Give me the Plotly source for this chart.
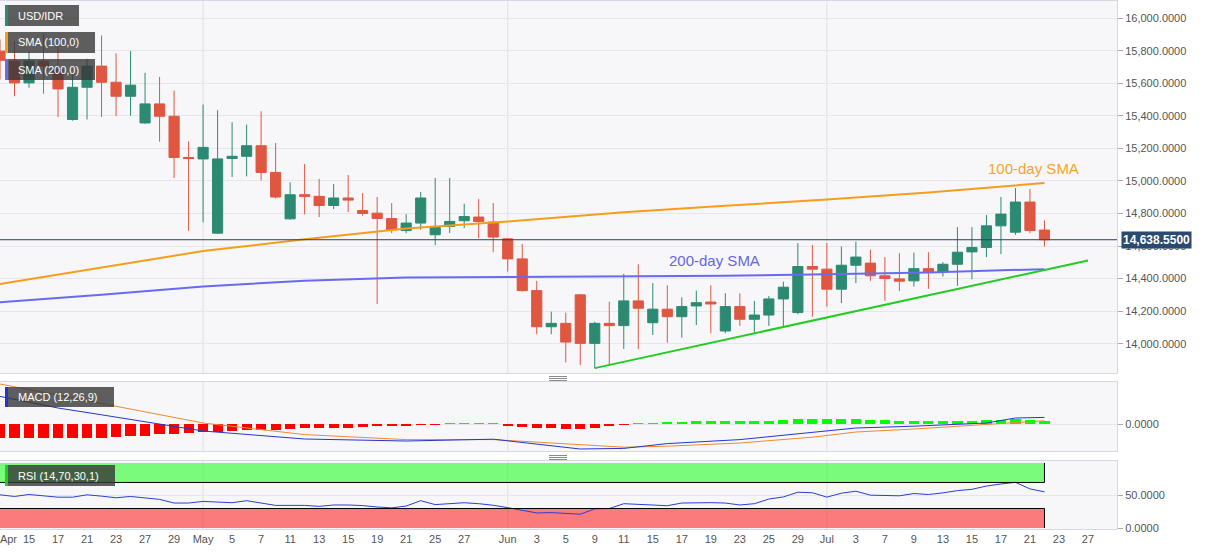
import plotly.graph_objects as go

# USD/IDR daily candles, 13 Apr - 22 Jul 2020
dates = [
    "2020-04-13", "2020-04-14", "2020-04-15", "2020-04-16", "2020-04-17",
    "2020-04-20", "2020-04-21", "2020-04-22", "2020-04-23", "2020-04-24",
    "2020-04-27", "2020-04-28", "2020-04-29", "2020-04-30", "2020-05-01",
    "2020-05-04", "2020-05-05", "2020-05-06", "2020-05-07", "2020-05-08",
    "2020-05-11", "2020-05-12", "2020-05-13", "2020-05-14", "2020-05-15",
    "2020-05-18", "2020-05-19", "2020-05-20", "2020-05-21", "2020-05-22",
    "2020-05-25", "2020-05-26", "2020-05-27", "2020-05-28", "2020-05-29",
    "2020-06-01", "2020-06-02", "2020-06-03", "2020-06-04", "2020-06-05",
    "2020-06-08", "2020-06-09", "2020-06-10", "2020-06-11", "2020-06-12",
    "2020-06-15", "2020-06-16", "2020-06-17", "2020-06-18", "2020-06-19",
    "2020-06-22", "2020-06-23", "2020-06-24", "2020-06-25", "2020-06-26",
    "2020-06-29", "2020-06-30", "2020-07-01", "2020-07-02", "2020-07-03",
    "2020-07-06", "2020-07-07", "2020-07-08", "2020-07-09", "2020-07-10",
    "2020-07-13", "2020-07-14", "2020-07-15", "2020-07-16", "2020-07-17",
    "2020-07-20", "2020-07-21", "2020-07-22",
]
opens = [
    15797, 15735, 15602, 15735, 15684, 15377, 15575, 15705, 15606, 15520,
    15356, 15473, 15397, 15144, 15135, 14679, 15138, 15151, 15216, 15052,
    14767, 14915, 14905, 14849, 14895, 14818, 14802, 14769, 14695, 14741,
    14669, 14720, 14755, 14778, 14747, 14644, 14521, 14326, 14104, 14125,
    14300, 14002, 14125, 14111, 14263, 14129, 14212, 14166, 14232, 14256,
    14078, 14228, 14150, 14176, 14275, 14191, 14474, 14458, 14335, 14482,
    14495, 14417, 14398, 14386, 14461, 14443, 14488, 14564, 14591, 14724,
    14685, 14870, 14698,
]
highs = [
    15869, 15858, 15797, 15906, 15838, 15664, 15750, 15893, 15783, 15797,
    15664, 15639, 15555, 15243, 15469, 15434, 15360, 15346, 15428, 15233,
    14991, 15104, 15012, 14981, 15036, 14925, 14901, 14864, 14796, 14932,
    15018, 15018, 14860, 14888, 14864, 14648, 14613, 14386, 14197, 14191,
    14305, 14135, 14258, 14429, 14488, 14372, 14359, 14285, 14326, 14359,
    14310, 14310, 14263, 14293, 14381, 14618, 14607, 14618, 14597, 14628,
    14577, 14532, 14556, 14560, 14562, 14501, 14716, 14716, 14790, 14901,
    14956, 14950, 14757,
]
lows = [
    15623, 15520, 15572, 15535, 15393, 15370, 15377, 15393, 15397, 15401,
    15350, 15241, 15018, 14693, 14745, 14675, 15024, 15028, 15003, 14892,
    14762, 14794, 14778, 14827, 14808, 14786, 14244, 14679, 14679, 14700,
    14605, 14679, 14710, 14648, 14562, 14443, 14320, 14058, 14058, 13885,
    13869, 13848, 13869, 13967, 13967, 14053, 14006, 14037, 14115, 14064,
    14064, 14109, 14064, 14109, 14104, 14181, 14166, 14228, 14249, 14372,
    14386, 14263, 14324, 14351, 14337, 14412, 14355, 14396, 14532, 14550,
    14669, 14679, 14597,
]
closes = [
    15741, 15602, 15735, 15705, 15565, 15575, 15705, 15606, 15520, 15588,
    15473, 15397, 15144, 15137, 15206, 15135, 15151, 15216, 15052, 14901,
    14915, 14905, 14849, 14895, 14882, 14800, 14769, 14700, 14741, 14895,
    14714, 14751, 14781, 14751, 14655, 14521, 14326, 14104, 14125, 14010,
    14002, 14125, 14111, 14263, 14218, 14212, 14166, 14228, 14252, 14244,
    14228, 14150, 14176, 14275, 14347, 14474, 14458, 14335, 14482, 14532,
    14417, 14400, 14384, 14461, 14443, 14488, 14562, 14591, 14724, 14796,
    14870, 14695, 14638.55,
]
last_price = 14638.55

# moving averages, read at a few dates
sma_dates = ["2020-04-13", "2020-04-22", "2020-05-01", "2020-05-12", "2020-05-21",
             "2020-06-01", "2020-06-11", "2020-06-22", "2020-07-01", "2020-07-10",
             "2020-07-22"]
sma100 = [14367, 14466, 14569, 14641, 14708, 14751, 14807, 14847, 14885, 14929, 14987]
sma200 = [14255, 14301, 14352, 14387, 14407, 14410, 14413, 14417, 14426, 14438, 14458]

# rising support line
support_dates = ["2020-06-09", "2020-07-27"]
support_vals = [13850, 14511]

# MACD (12,26,9)
macd_dates = ["2020-04-13", "2020-04-17", "2020-04-22", "2020-05-01", "2020-05-12",
              "2020-05-21", "2020-05-29", "2020-06-03", "2020-06-08", "2020-06-11",
              "2020-06-16", "2020-06-23", "2020-06-30", "2020-07-03", "2020-07-09",
              "2020-07-16", "2020-07-20", "2020-07-22"]
macd_line = [138, 80, 46, -35, -75, -85, -76, -102, -125, -122, -98, -78, -42, -20, -11, 5, 30, 33]
signal_line = [200, 145, 105, 5, -53, -78, -78, -90, -103, -116, -111, -95, -66, -40, -25, -1, 8, 16]
macd_hist = [
    -70, -70, -70, -70, -70, -70, -70, -68, -65, -62,
    -60, -50, -48, -45, -42, -38, -35, -32, -30, -28,
    -25, -22, -20, -18, -18, -15, -12, -12, -10, -5,
    -2, 2, 4, 4, 2, -10, -15, -18, -20, -25,
    -25, -18, -12, -5, 2, 5, 6, 10, 13, 15,
    15, 13, 13, 15, 18, 23, 26, 23, 23, 26,
    20, 18, 16, 15, 13, 13, 15, 15, 20, 22,
    25, 20, 16,
]

# RSI (14)
rsi = [
    51, 48.5, 51.5, 50, 47.4, 47.4, 51, 49, 46.5, 48.5,
    46.5, 44, 38.4, 38.4, 40.9, 40, 38.9, 42, 38.5, 34.8,
    34.8, 34.8, 33.3, 35.4, 35.4, 34.5, 32.3, 31, 33.8, 42,
    36, 37, 38.9, 37.4, 35, 31.3, 27, 23.2, 23.7, 22.5,
    21.2, 29.5, 30, 37.4, 36, 35.4, 34.3, 38.4, 39.2, 39,
    38.4, 35.4, 37.4, 44.5, 47.8, 55, 54.2, 47.5, 53.5, 56.6,
    50.5, 50, 49.5, 53, 51.5, 54, 57.5, 59.5, 64.5, 67.7,
    70.2, 60.1, 55.6,
]

tick_dates = ["2020-04-13 14:00", "2020-04-15", "2020-04-17", "2020-04-21", "2020-04-23",
              "2020-04-27", "2020-04-29", "2020-05-01", "2020-05-05", "2020-05-07",
              "2020-05-11", "2020-05-13", "2020-05-15", "2020-05-19", "2020-05-21",
              "2020-05-25", "2020-05-27", "2020-06-01", "2020-06-03", "2020-06-05",
              "2020-06-09", "2020-06-11", "2020-06-15", "2020-06-17", "2020-06-19",
              "2020-06-23", "2020-06-25", "2020-06-29", "2020-07-01", "2020-07-03",
              "2020-07-07", "2020-07-09", "2020-07-13", "2020-07-15", "2020-07-17",
              "2020-07-21", "2020-07-23", "2020-07-27"]
tick_text = ["Apr", "15", "17", "21", "23", "27", "29", "May", "5", "7", "11", "13", "15",
             "19", "21", "25", "27", "Jun", "3", "5", "9", "11", "15", "17", "19", "23",
             "25", "29", "Jul", "3", "7", "9", "13", "15", "17", "21", "23", "27"]
month_starts = ["2020-05-01", "2020-06-01", "2020-07-01"]
price_ticks = [14000, 14200, 14400, 14600, 14800, 15000, 15200, 15400, 15600, 15800, 16000]

GREEN = "#2d8a72"
RED = "#df5741"
ORANGE = "#f59e1b"
PURPLE = "#6a6af0"
FONT = "Liberation Sans, Arial, sans-serif"
BORDER = "#d6d9e4"
GRID = "#e6e6ec"

# page pixels -> paper coords (plot area spans x 0..1117, y 1..530)
def px(x):
    return x / 1117


def py(y):
    return (530 - y) / 529


fig = go.Figure()

fig.add_trace(go.Candlestick(
    x=dates, open=opens, high=highs, low=lows, close=closes,
    increasing=dict(line=dict(color=GREEN, width=1), fillcolor=GREEN),
    decreasing=dict(line=dict(color=RED, width=1), fillcolor=RED),
    whiskerwidth=0, xaxis="x", yaxis="y", hoverinfo="skip",
))
fig.add_trace(go.Scatter(x=sma_dates, y=sma100, mode="lines", line=dict(color=ORANGE, width=2),
                         xaxis="x", yaxis="y"))
fig.add_trace(go.Scatter(x=sma_dates, y=sma200, mode="lines", line=dict(color=PURPLE, width=2),
                         xaxis="x", yaxis="y"))
fig.add_trace(go.Scatter(x=support_dates, y=support_vals, mode="lines",
                         line=dict(color="#22cc22", width=2), xaxis="x", yaxis="y"))

# MACD panel
fig.add_trace(go.Bar(x=dates, y=macd_hist, width=0.7 * 86400000,
                     marker=dict(color=["#ff0000" if v < 0 else "#00ff00" for v in macd_hist],
                                 line=dict(width=0)),
                     xaxis="x2", yaxis="y2"))
fig.add_trace(go.Scatter(x=macd_dates, y=signal_line, mode="lines",
                         line=dict(color="#ee8a30", width=1), xaxis="x2", yaxis="y2"))
fig.add_trace(go.Scatter(x=macd_dates, y=macd_line, mode="lines",
                         line=dict(color="#2436d0", width=1), xaxis="x2", yaxis="y2"))

# RSI panel
fig.add_trace(go.Scatter(x=dates, y=rsi, mode="lines", line=dict(color="#2a3ed6", width=1),
                         xaxis="x3", yaxis="y3"))

xcommon = dict(
    type="date", range=["2020-04-13", "2020-07-29"],
    rangebreaks=[dict(bounds=["sat", "mon"])],
    showgrid=False, zeroline=False, showline=True, mirror=True,
    linecolor=BORDER, linewidth=1, fixedrange=True,
)
ycommon = dict(
    side="right", showline=True, mirror=True, linecolor=BORDER, linewidth=1,
    gridcolor=GRID, zeroline=False, tickformat=",.4f", fixedrange=True,
    ticks="outside", ticklen=5, tickcolor="#aaaaaa",
    tickfont=dict(family=FONT, size=11, color="#555555"),
)

fig.update_layout(
    width=1207, height=555,
    margin=dict(l=0, r=90, t=1, b=25),
    paper_bgcolor="white", plot_bgcolor="#f7f7f9",
    showlegend=False, bargap=0, boxgap=0.3, boxgroupgap=0,
    hovermode=False,
    font=dict(family=FONT),
    xaxis=dict(xcommon, domain=[0, 1], anchor="y", showticklabels=False,
               rangeslider=dict(visible=False)),
    xaxis2=dict(xcommon, domain=[0, 1], anchor="y2", matches="x", showticklabels=False),
    xaxis3=dict(xcommon, domain=[0, 1], anchor="y3", matches="x",
                tickvals=tick_dates, ticktext=tick_text, ticks="",
                ticklabeloverflow="allow",
                tickfont=dict(family=FONT, size=11, color="#555555")),
    yaxis=dict(ycommon, domain=[py(373), 1], range=[13820, 16105], tickvals=price_ticks),
    yaxis2=dict(ycommon, domain=[py(451), py(382)], range=[-135, 210], tickvals=[0]),
    yaxis3=dict(ycommon, domain=[py(529), py(461)], range=[-1.5, 103], tickvals=[0, 50]),
)

shapes = []
# vertical month lines in each panel
for d in month_starts:
    for xr, yr in (("x", "y domain"), ("x2", "y2 domain"), ("x3", "y3 domain")):
        shapes.append(dict(type="line", xref=xr, yref=yr, x0=d, x1=d, y0=0, y1=1,
                           line=dict(color="#e0e0e6", width=1), layer="below"))
# current price line
shapes.append(dict(type="line", xref="paper", yref="y", x0=0, x1=1, y0=last_price, y1=last_price,
                   line=dict(color="#2a3f5f", width=1)))
# RSI zones
shapes.append(dict(type="rect", xref="x3", yref="y3", x0=dates[0], x1=dates[-1], y0=70, y1=100,
                   fillcolor="rgba(0,255,0,0.5)", line=dict(width=0), layer="below"))
shapes.append(dict(type="rect", xref="x3", yref="y3", x0=dates[0], x1=dates[-1], y0=0, y1=30,
                   fillcolor="rgba(255,0,0,0.5)", line=dict(width=0), layer="below"))
for lvl in (70, 30):
    shapes.append(dict(type="line", xref="x3", yref="y3", x0=dates[0], x1=dates[-1], y0=lvl, y1=lvl,
                       line=dict(color="black", width=1)))
for lo, hi in ((70, 100), (0, 30)):
    shapes.append(dict(type="line", xref="x3", yref="y3", x0=dates[-1], x1=dates[-1], y0=lo, y1=hi,
                       line=dict(color="black", width=1)))
# panel separators
for ymid in (378.5, 457.5):
    for dy in (-2, 0, 2):
        shapes.append(dict(type="line", xref="paper", yref="paper", x0=px(549), x1=px(567),
                           y0=py(ymid + dy), y1=py(ymid + dy), line=dict(color="#8a8a8a", width=1)))

# indicator name boxes
label_boxes = [
    ("USD/IDR", 5, 79, 5, 26, GREEN),
    ("SMA (100,0)", 5, 95, 32, 53, ORANGE),
    ("SMA (200,0)", 5, 95, 59, 80, PURPLE),
    ("MACD (12,26,9)", 5, 114, 387, 407, "#2436d0"),
    ("RSI (14,70,30,1)", 5, 115, 465, 486, "#22cc22"),
]
annotations = []
for text, x0, x1, y0, y1, col in label_boxes:
    shapes.append(dict(type="rect", xref="paper", yref="paper", x0=px(x0), x1=px(x1),
                       y0=py(y1), y1=py(y0), fillcolor="rgba(55,55,55,0.8)",
                       line=dict(width=0), layer="above"))
    shapes.append(dict(type="rect", xref="paper", yref="paper", x0=px(x0), x1=px(x0 + 3),
                       y0=py(y1), y1=py(y0), fillcolor=col, line=dict(width=0), layer="above"))
    annotations.append(dict(text=text, xref="paper", yref="paper", x=px(16), y=py((y0 + y1) / 2),
                            xanchor="left", yanchor="middle", showarrow=False,
                            font=dict(family=FONT, size=11, color="white")))

annotations.append(dict(text="100-day SMA", xref="x", yref="y", x="2020-07-16", y=15075,
                        xanchor="left", yanchor="middle", showarrow=False,
                        font=dict(family=FONT, size=15, color="#f5a623")))
annotations.append(dict(text="200-day SMA", xref="x", yref="y", x="2020-06-16", y=14509,
                        xanchor="left", yanchor="middle", showarrow=False,
                        font=dict(family=FONT, size=15, color="#6666e6")))
annotations.append(dict(text="<b>14,638.5500</b>", xref="paper", yref="y", x=1, y=last_price,
                        xanchor="left", yanchor="middle", xshift=4, showarrow=False,
                        bgcolor="#2b4a6f", borderpad=1,
                        font=dict(family=FONT, size=12, color="white")))

fig.update_layout(shapes=shapes, annotations=annotations)

# drop the browser's default 8px page margin so the figure sits at the window corner
fig.write_html("out.html", config={"displayModeBar": False},
               post_script="document.body.style.margin='0';")
